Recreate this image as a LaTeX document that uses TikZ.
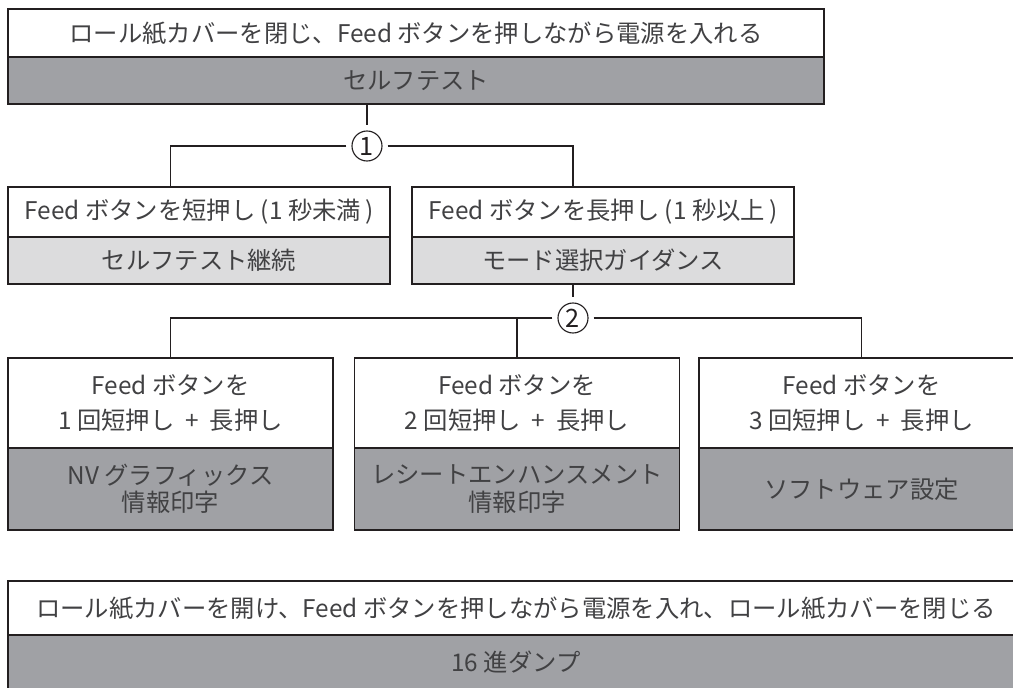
\documentclass[tikz,border=0pt]{standalone}
\usepackage{fontspec}
\setmainfont{Noto Sans CJK JP}
\usetikzlibrary{positioning}
\definecolor{stInk}{HTML}{231F20}
\definecolor{stText}{HTML}{414143}
\definecolor{stDark}{HTML}{A0A1A5}
\definecolor{stLight}{HTML}{DCDCDD}
\tikzset{
  st box/.style={
    draw=stInk,
    line width=1.1pt,
    inner sep=0pt,
    outer sep=0pt,
    text=stText,
    align=center,
    font=\fontsize{17.3}{25}\selectfont
  },
  st cond/.style={st box, fill=white},
  st dark/.style={st box, fill=stDark},
  st light/.style={st box, fill=stLight},
  st size/.style 2 args={minimum width=#1*0.025cm, minimum height=#2*0.025cm},
  st link/.style={draw=stInk, line width=1.1pt},
  st num/.style={
    circle,
    draw=stInk,
    line width=.8pt,
    minimum size=.75cm,
    inner sep=0pt,
    outer sep=.14cm,
    text=stInk,
    font=\fontsize{18}{18}\selectfont
  }
}

\begin{document}
\begin{tikzpicture}[x=0.025cm,y=-0.025cm]
  \useasboundingbox (0,0) rectangle (1013,688);

  \node[st cond, st size={816}{48}] (power) at (416,33)
    {ロール紙カバーを閉じ、Feed ボタンを押しながら電源を入れる};
  \node[st dark, st size={816}{47}, below=0pt of power] (selftest) {セルフテスト};

  \node[st cond, st size={382}{50}] (short) at (199,212)
    {Feed ボタンを短押し (1 秒未満\,)};
  \node[st light, st size={382}{47}, below=0pt of short] (shortres) {セルフテスト継続};
  \node[st cond, st size={382}{50}] (long) at (603,212)
    {Feed ボタンを長押し (1 秒以上\,)};
  \node[st light, st size={382}{47}, below=0pt of long] (longres) {モード選択ガイダンス};

  \foreach \x/\res [count=\i] in {170.5/{NV グラフィックス\\情報印字},
      517/{レシートエンハンスメント\\情報印字}, 861.5/{ソフトウェア設定}} {
    \node[st cond, st size={325}{90}] (press\i) at (\x,403)
      {Feed ボタンを\\\i{} 回短押し \ + \ 長押し};
    \node[st dark, st size={325}{82}, below=0pt of press\i,
      font=\fontsize{17.3}{19.5}\selectfont] (mode\i) {\res};
  }

  \node[st cond, st size={1016}{54}] (open) at (516,608)
    {ロール紙カバーを開け、Feed ボタンを押しながら電源を入れ、ロール紙カバーを閉じる};
  \node[st dark, st size={1016}{55}, below=0pt of open] (dump) {16 進ダンプ};

  % branch points
  \node[st num] (n1) at (367,146) {1};
  \node[st num] (n2) at (573,318) {2};

  \draw[st link] (n1 |- selftest.south) -- (n1.north);
  \draw[st link] (n1.west) -| (short.north -| press1.north);
  \draw[st link] (n1.east) -| (long.north -| n2);
  \draw[st link] (n2 |- longres.south) -- (n2.north);
  \draw[st link] (n2.west) -| (press1.north);
  \draw[st link] (n2.east) -| (press3.north);
  \draw[st link] (press2.north) -- (press2.north |- n2);
\end{tikzpicture}
\end{document}
